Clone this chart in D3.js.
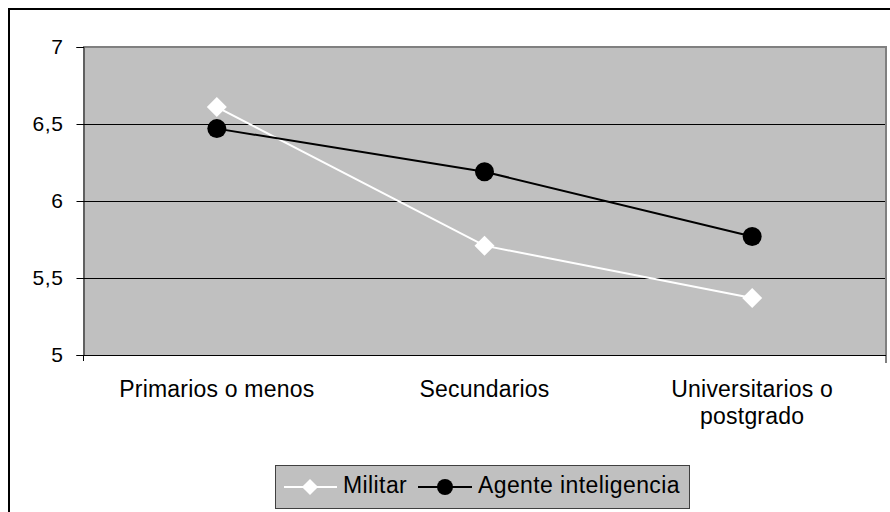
<!DOCTYPE html>
<html>
<head>
<meta charset="utf-8">
<style>
  body { margin: 0; background: #fff; }
  svg { display: block; font-family: "Liberation Sans", Arial, sans-serif; }
</style>
</head>
<body>
<svg width="890" height="512"></svg>
<script src="https://d3js.org/d3.v7.min.js"></script>
<script>
// data
const categories = ["Primarios o menos", "Secundarios", "Universitarios o postgrado"];
const militar = [6.61, 5.71, 5.37];
const agente = [6.47, 6.19, 5.77];
const yTicks = [5, 5.5, 6, 6.5, 7];
const seriesNames = ["Militar", "Agente inteligencia"];

const svg = d3.select("svg");
const pL = 83, pR = 886, pT = 47, pB = 355;

// outer frame
svg.append("rect")
  .attr("x", 9).attr("y", 9)
  .attr("width", 900).attr("height", 520)
  .attr("fill", "none").attr("stroke", "#000").attr("stroke-width", 2);

const x = d3.scaleBand().domain(categories).range([pL, pR]);
const y = d3.scaleLinear().domain([5, 7]).range([pB, pT]);

// plot area
svg.append("rect")
  .attr("x", pL).attr("y", pT)
  .attr("width", pR - pL).attr("height", pB - pT)
  .attr("fill", "#c0c0c0");

// grid
svg.append("g").selectAll("line")
  .data(yTicks.filter(d => d > 5 && d < 7))
  .enter().append("line")
  .attr("x1", pL).attr("x2", pR)
  .attr("y1", d => y(d) + 0.5).attr("y2", d => y(d) + 0.5)
  .attr("stroke", "#000").attr("stroke-width", 1);

// plot border top / right in gray
svg.append("line")
  .attr("x1", pL).attr("x2", pR + 1).attr("y1", pT).attr("y2", pT)
  .attr("stroke", "#808080").attr("stroke-width", 2);
svg.append("line")
  .attr("x1", pR).attr("x2", pR).attr("y1", pT).attr("y2", pB + 8)
  .attr("stroke", "#808080").attr("stroke-width", 2);

// y axis
const yAxis = svg.append("g")
  .attr("transform", `translate(${pL + 0.5},0)`)
  .call(d3.axisLeft(y).tickValues(yTicks).tickSize(7).tickPadding(13)
    .tickFormat(d => String(d).replace(".", ",")));
yAxis.select(".domain").attr("stroke", "#000");
yAxis.selectAll(".tick line").attr("stroke", "#000");
yAxis.selectAll("text")
  .attr("font-size", 21).attr("fill", "#000").attr("letter-spacing", 0.6)
  .attr("font-family", "Liberation Sans, Arial, sans-serif");

// x axis line
svg.append("line")
  .attr("x1", pL).attr("x2", pR).attr("y1", pB + 0.5).attr("y2", pB + 0.5)
  .attr("stroke", "#000").attr("stroke-width", 1);
svg.append("line")
  .attr("x1", pL + 0.5).attr("x2", pL + 0.5).attr("y1", pB).attr("y2", pB + 6)
  .attr("stroke", "#000");

// x labels (wrapped like the original)
const xLabelLines = [["Primarios o menos"], ["Secundarios"], ["Universitarios o", "postgrado"]];
categories.forEach((c, i) => {
  const t = svg.append("text")
    .attr("x", x(c) + x.bandwidth() / 2)
    .attr("y", 397)
    .attr("text-anchor", "middle")
    .attr("font-size", 23).attr("fill", "#000").attr("letter-spacing", 0.2);
  xLabelLines[i].forEach((ln, j) => {
    t.append("tspan")
      .attr("x", x(c) + x.bandwidth() / 2)
      .attr("dy", j === 0 ? 0 : 27)
      .text(ln);
  });
});

const cx = d => x(d) + x.bandwidth() / 2;
const line = d3.line().x(d => cx(d.c)).y(d => y(d.v));
const diamond = d3.symbol().type(d3.symbolSquare).size(200);

// Militar (white diamonds)
const mData = categories.map((c, i) => ({ c, v: militar[i] }));
svg.append("path").datum(mData)
  .attr("d", line).attr("fill", "none")
  .attr("stroke", "#fff").attr("stroke-width", 2);
svg.append("g").selectAll("path")
  .data(mData).enter().append("path")
  .attr("d", diamond)
  .attr("transform", d => `translate(${cx(d.c)},${y(d.v)}) rotate(45)`)
  .attr("fill", "#fff");

// Agente inteligencia (black circles)
const aData = categories.map((c, i) => ({ c, v: agente[i] }));
svg.append("path").datum(aData)
  .attr("d", line).attr("fill", "none")
  .attr("stroke", "#000").attr("stroke-width", 2);
svg.append("g").selectAll("circle")
  .data(aData).enter().append("circle")
  .attr("cx", d => cx(d.c)).attr("cy", d => y(d.v))
  .attr("r", 9.5).attr("fill", "#000");

// legend
const lg = svg.append("g");
lg.append("rect")
  .attr("x", 275.5).attr("y", 465.5).attr("width", 414).attr("height", 43)
  .attr("fill", "#c0c0c0").attr("stroke", "#404040").attr("stroke-width", 1);
const ly = 487;
lg.append("line").attr("x1", 284).attr("x2", 337).attr("y1", ly).attr("y2", ly)
  .attr("stroke", "#fff").attr("stroke-width", 2);
lg.append("path").attr("d", d3.symbol().type(d3.symbolSquare).size(130))
  .attr("transform", `translate(310,${ly}) rotate(45)`).attr("fill", "#fff");
lg.append("text").attr("x", 343).attr("y", 493).attr("font-size", 23)
  .attr("letter-spacing", 0.4).text(seriesNames[0]);
lg.append("line").attr("x1", 418).attr("x2", 472).attr("y1", ly).attr("y2", ly)
  .attr("stroke", "#000").attr("stroke-width", 2);
lg.append("circle").attr("cx", 445).attr("cy", ly).attr("r", 8).attr("fill", "#000");
lg.append("text").attr("x", 478).attr("y", 493).attr("font-size", 23)
  .attr("letter-spacing", 0.4).text(seriesNames[1]);
</script>
</body>
</html>
